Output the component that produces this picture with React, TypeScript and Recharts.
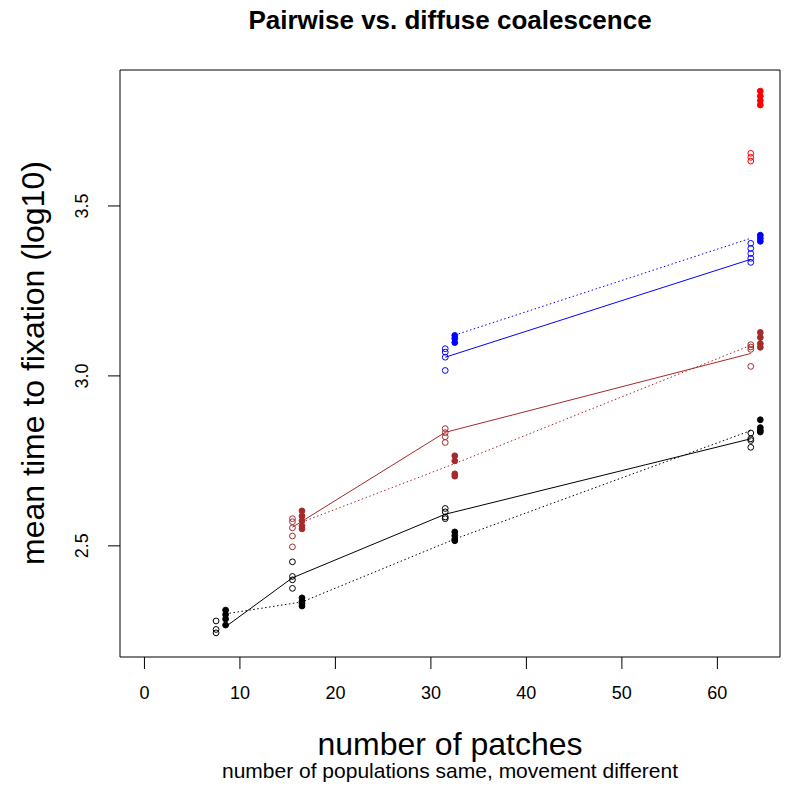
import { ScatterChart, Scatter, XAxis, YAxis, ReferenceArea } from "recharts";

const FONT = "'Liberation Sans', Arial, sans-serif";

const COLORS = { black: "#000000", brown: "#A52A2A", blue: "#0000FF", red: "#FF0000" };

const xTicks = [0, 10, 20, 30, 40, 50, 60];
const yTicks = [2.5, 3.0, 3.5];
const xDomain = [-2.56, 66.56];
const yDomain = [2.173, 3.9];

// open circles (pairwise), plotted just left of the patch count
const blackOpenX = [7.5, 15.5, 31.5, 63.5];
const blackOpenY = [
  [2.279, 2.254, 2.244],
  [2.453, 2.41, 2.4, 2.375],
  [2.61, 2.6, 2.585, 2.58],
  [2.832, 2.815, 2.81, 2.79],
];
const brownOpenX = [15.5, 31.5, 63.5];
const brownOpenY = [
  [2.58, 2.571, 2.553, 2.529, 2.497],
  [2.845, 2.833, 2.821, 2.804],
  [3.092, 3.085, 3.078, 3.028],
];
const blueOpenX = [31.5, 63.5];
const blueOpenY = [
  [3.08, 3.07, 3.055, 3.016],
  [3.39, 3.375, 3.36, 3.346, 3.334],
];
const redOpenX = [63.5];
const redOpenY = [[3.655, 3.643, 3.632]];

// filled circles (diffuse), just right of the patch count
const blackFilledX = [8.5, 16.5, 32.5, 64.5];
const blackFilledY = [
  [2.311, 2.298, 2.285, 2.267],
  [2.347, 2.337, 2.33, 2.323],
  [2.541, 2.53, 2.52, 2.515],
  [2.871, 2.848, 2.84, 2.835],
];
const brownFilledX = [16.5, 32.5, 64.5];
const brownFilledY = [
  [2.603, 2.588, 2.574, 2.559, 2.55],
  [2.765, 2.75, 2.712, 2.705],
  [3.128, 3.113, 3.095, 3.084],
];
const blueFilledX = [32.5, 64.5];
const blueFilledY = [
  [3.119, 3.11, 3.098],
  [3.414, 3.405, 3.396],
];
const redFilledX = [64.5];
const redFilledY = [[3.838, 3.823, 3.81, 3.797]];

// mean lines
const blackSolidX = [8.5, 15.5, 31.5, 63.5];
const blackSolidY = [2.262, 2.406, 2.593, 2.815];
const blackDottedX = [8.5, 16.5, 32.5, 63.5];
const blackDottedY = [2.3, 2.335, 2.52, 2.839];
const brownSolidX = [15.5, 31.5, 63.5];
const brownSolidY = [2.555, 2.834, 3.066];
const brownDottedX = [16.5, 32.5, 63.5];
const brownDottedY = [2.57, 2.742, 3.09];
const blueSolidX = [31.5, 63.5];
const blueSolidY = [3.055, 3.343];
const blueDottedX = [32.5, 63.5];
const blueDottedY = [3.12, 3.405];

const toPoints = (xs: number[], ys: number[][]) =>
  xs.flatMap((x, i) => ys[i].map((y) => ({ x, y })));
const toLine = (xs: number[], ys: number[]) => xs.map((x, i) => ({ x, y: ys[i] }));

const pointSeries = [
  { data: toPoints(blackOpenX, blackOpenY), color: COLORS.black, filled: false },
  { data: toPoints(blackFilledX, blackFilledY), color: COLORS.black, filled: true },
  { data: toPoints(brownOpenX, brownOpenY), color: COLORS.brown, filled: false },
  { data: toPoints(brownFilledX, brownFilledY), color: COLORS.brown, filled: true },
  { data: toPoints(blueOpenX, blueOpenY), color: COLORS.blue, filled: false },
  { data: toPoints(blueFilledX, blueFilledY), color: COLORS.blue, filled: true },
  { data: toPoints(redOpenX, redOpenY), color: COLORS.red, filled: false },
  { data: toPoints(redFilledX, redFilledY), color: COLORS.red, filled: true },
];

const lineSeries = [
  { data: toLine(blackSolidX, blackSolidY), color: COLORS.black, dash: undefined },
  { data: toLine(blackDottedX, blackDottedY), color: COLORS.black, dash: "1.5 2.5" },
  { data: toLine(brownSolidX, brownSolidY), color: COLORS.brown, dash: undefined },
  { data: toLine(brownDottedX, brownDottedY), color: COLORS.brown, dash: "1.5 2.5" },
  { data: toLine(blueSolidX, blueSolidY), color: COLORS.blue, dash: undefined },
  { data: toLine(blueDottedX, blueDottedY), color: COLORS.blue, dash: "1.5 2.5" },
];

const XTick = (props: any) => {
  const { x, payload } = props;
  return (
    <text x={x} y={699} textAnchor="middle" fontSize={18} fontFamily={FONT} fill="#000">
      {payload.value}
    </text>
  );
};

const YTick = (props: any) => {
  const { y, payload } = props;
  return (
    <text
      x={82}
      y={y}
      transform={`rotate(-90, 82, ${y})`}
      textAnchor="middle"
      dominantBaseline="central"
      fontSize={18}
      fontFamily={FONT}
      fill="#000"
    >
      {Number(payload.value).toFixed(1)}
    </text>
  );
};

export default function App() {
  return (
    <div style={{ position: "absolute", left: 0, top: 0, width: 785, height: 788, background: "#fff", fontFamily: FONT }}>
      <ScatterChart width={785} height={788} margin={{ top: 70, right: 5, bottom: 0, left: 0 }}>
        <XAxis
          type="number"
          dataKey="x"
          domain={xDomain}
          ticks={xTicks}
          allowDataOverflow
          height={131}
          axisLine={false}
          tickLine={{ stroke: "#000" }}
          tickSize={12}
          tick={<XTick />}
        />
        <YAxis
          type="number"
          dataKey="y"
          domain={yDomain}
          ticks={yTicks}
          allowDataOverflow
          width={120}
          axisLine={false}
          tickLine={{ stroke: "#000" }}
          tickSize={12}
          tick={<YTick />}
        />
        <ReferenceArea
          x1={xDomain[0]}
          x2={xDomain[1]}
          y1={yDomain[0]}
          y2={yDomain[1]}
          fill="none"
          fillOpacity={0}
          stroke="#000"
          strokeWidth={1}
        />
        {lineSeries.map((s, i) => (
          <Scatter
            key={`line-${i}`}
            data={s.data}
            isAnimationActive={false}
            line={{ stroke: s.color, strokeWidth: 1, strokeDasharray: s.dash }}
            shape={() => <g />}
          />
        ))}
        {pointSeries.map((s, i) => (
          <Scatter
            key={`pts-${i}`}
            data={s.data}
            isAnimationActive={false}
            shape={(p: any) => (
              <circle
                cx={p.cx}
                cy={p.cy}
                r={2.9}
                fill={s.filled ? s.color : "none"}
                stroke={s.color}
                strokeWidth={1}
              />
            )}
          />
        ))}
      </ScatterChart>
      <div style={{ position: "absolute", left: 120, width: 660, top: 7, textAlign: "center", fontSize: 26, lineHeight: "26px", fontWeight: "bold" }}>
        Pairwise vs. diffuse coalescence
      </div>
      <div style={{ position: "absolute", left: 120, width: 660, top: 728, textAlign: "center", fontSize: 32, lineHeight: "32px" }}>
        number of patches
      </div>
      <div style={{ position: "absolute", left: 120, width: 660, top: 760, textAlign: "center", fontSize: 21, lineHeight: "21px" }}>
        number of populations same, movement different
      </div>
      <div
        style={{
          position: "absolute",
          left: 33 - 300,
          top: 363 - 16,
          width: 600,
          textAlign: "center",
          fontSize: 32,
          lineHeight: "32px",
          transform: "rotate(-90deg)",
          whiteSpace: "nowrap",
        }}
      >
        mean time to fixation (log10)
      </div>
    </div>
  );
}
